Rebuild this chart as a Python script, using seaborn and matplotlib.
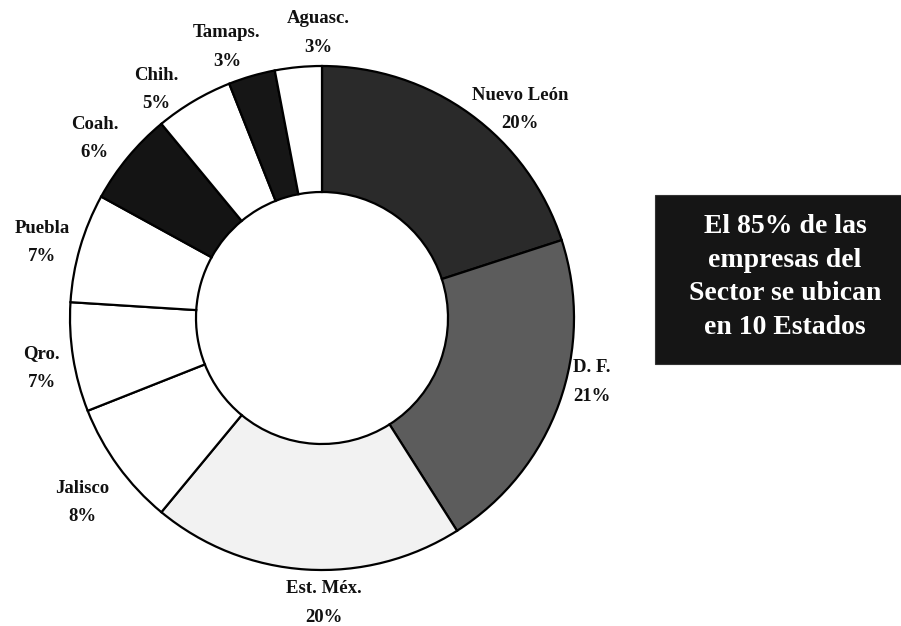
import matplotlib
matplotlib.use("Agg")
import matplotlib.pyplot as plt
from matplotlib.patches import Rectangle
import numpy as np
import seaborn as sns

# Distribution of companies in the sector by state (percent)
estados = ["Nuevo León", "D. F.", "Est. Méx.", "Jalisco", "Qro.",
           "Puebla", "Coah.", "Chih.", "Tamaps.", "Aguasc."]
porcentajes = [20, 21, 20, 8, 7, 7, 6, 5, 3, 3]
nota = "El 85% de las\nempresas del\nSector se ubican\nen 10 Estados"

# Wedge fills and label placement tweaks (angle offset in degrees, radius)
colores = ["#2a2a2a", "#5c5c5c", "#f2f2f2", "#ffffff", "#ffffff",
           "#ffffff", "#141414", "#ffffff", "#161616", "#ffffff"]
ajuste_ang = [-7.5, 6.5, 4.0, 1.6, 1.1, 1.1, 1.3, 5.3, 3.1, -4.6]
ajuste_rad = [1.14, 1.10, 1.13, 1.20, 1.13, 1.15, 1.15, 1.12, 1.14, 1.13]

sns.set_theme(style="white")
plt.rcParams["font.family"] = ["Liberation Serif", "DejaVu Serif"]

W, H = 901, 626
fig = plt.figure(figsize=(W / 100, H / 100), dpi=100)
fig.patch.set_facecolor("white")

# Donut axes: centre (322, 318) px, outer radius 252 px
cx, cy, R = 322, H - 318, 252
lim = 1.3
side = 2 * lim * R
ax = fig.add_axes([(cx - side / 2) / W, (cy - side / 2) / H, side / W, side / H])

wedges, _ = ax.pie(
    porcentajes, colors=colores, startangle=90, counterclock=False,
    radius=1.0,
    wedgeprops=dict(width=0.5, edgecolor="black", linewidth=1.6),
)
ax.set_xlim(-lim, lim)
ax.set_ylim(-lim, lim)
ax.set_aspect("equal")
ax.axis("off")

for w, nombre, pct, da, r in zip(wedges, estados, porcentajes, ajuste_ang, ajuste_rad):
    ang = np.deg2rad((w.theta1 + w.theta2) / 2 + da)
    ax.text(r * np.cos(ang), r * np.sin(ang), f"{nombre}\n{pct}%",
            ha="center", va="center", fontsize=13.5, fontweight="bold",
            linespacing=1.9, color="#111111", clip_on=False)

# Summary box on the right
fig.patches.append(Rectangle((655 / W, (H - 364) / H), (W - 655) / W, (364 - 195) / H,
                             transform=fig.transFigure, facecolor="#151515",
                             edgecolor="#333333", linewidth=0.8))
fig.text(785 / W, (H - 277) / H, nota, ha="center", va="center",
         color="white", fontsize=20, fontweight="bold", linespacing=1.45)

fig.savefig("out.png", dpi=100, facecolor="white")
